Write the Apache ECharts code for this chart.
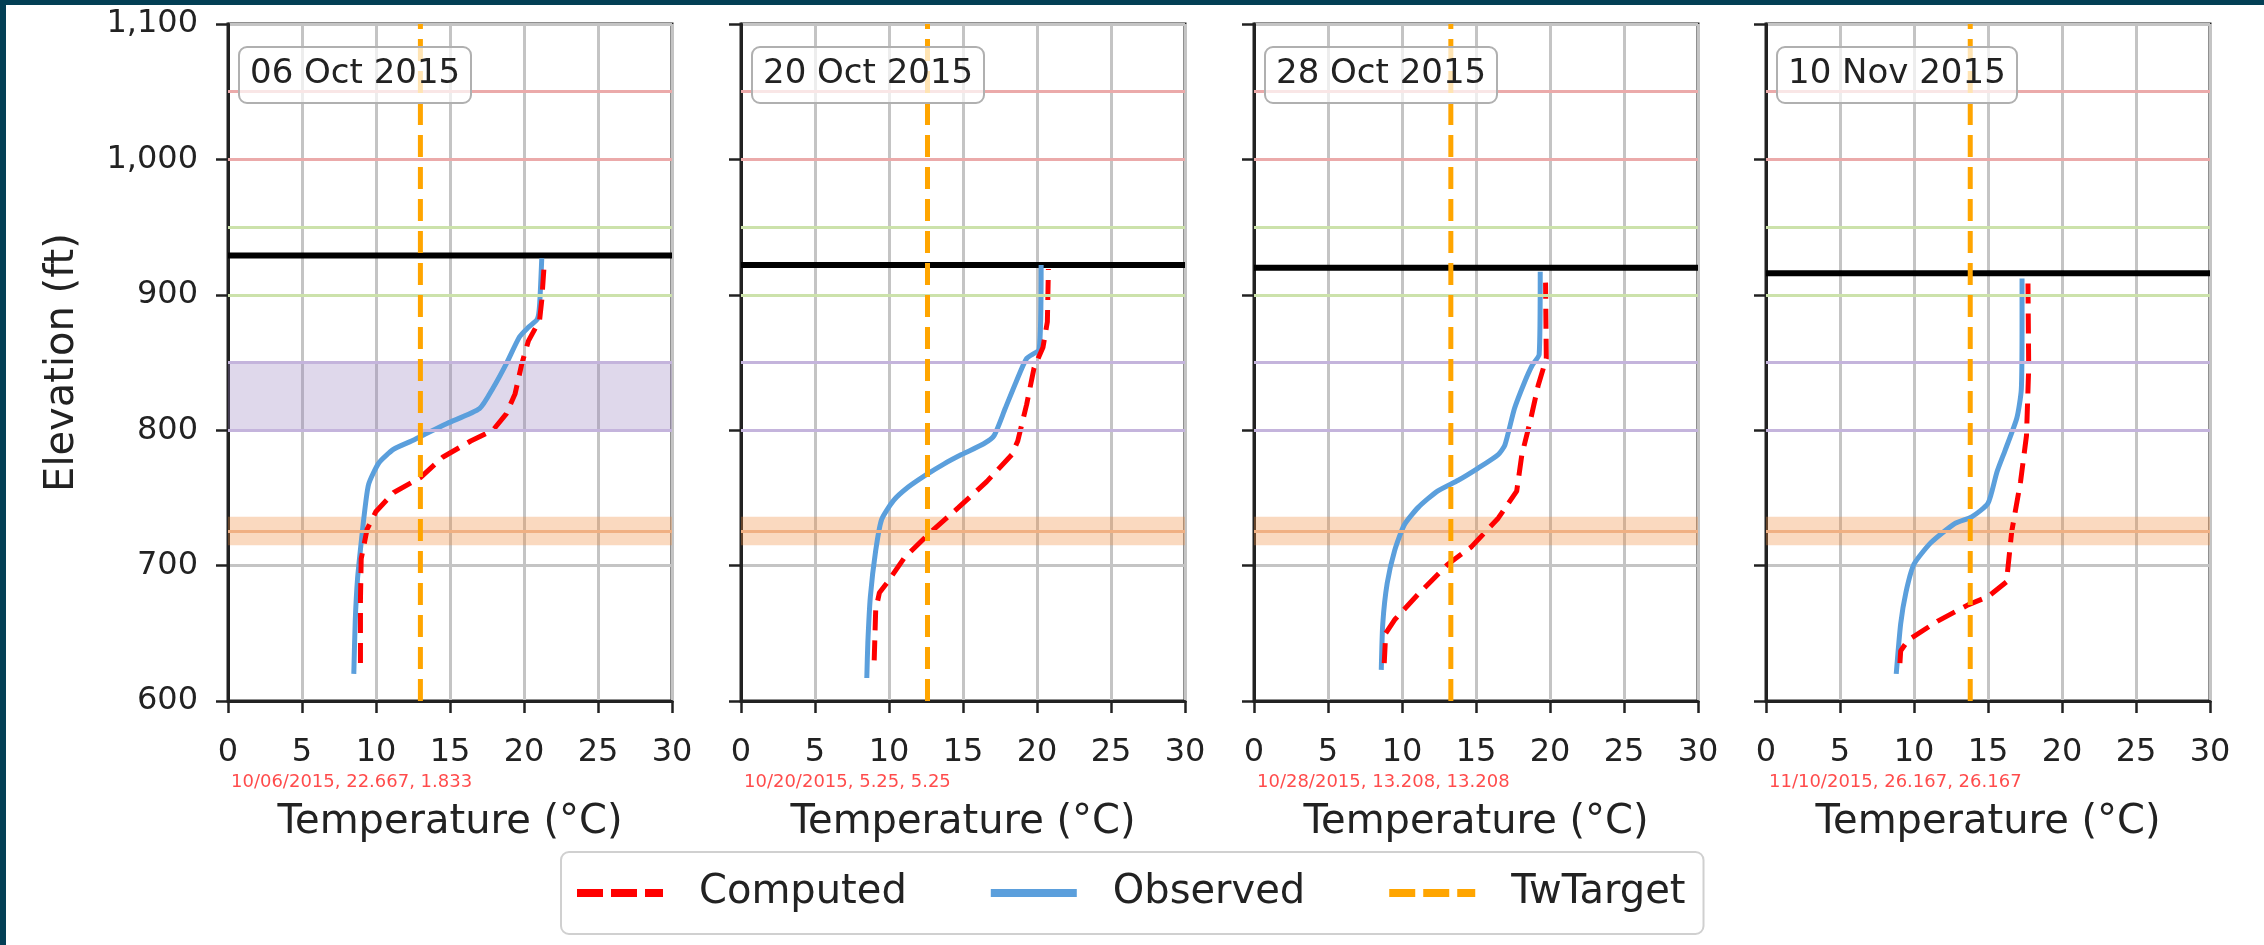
<!DOCTYPE html>
<html>
<head>
<meta charset="utf-8">
<title>Temperature profiles</title>
<script src="https://cdn.jsdelivr.net/npm/echarts@6/dist/echarts.min.js"></script>
<style>
  html, body { margin: 0; padding: 0; background: #fff; }
  #frame { position: relative; width: 2264px; height: 945px; overflow: hidden; }
  #frame .edge { position: absolute; background: #033f55; z-index: 5; }
  #chart { width: 2264px; height: 945px; }
</style>
</head>
<body>
<div id="frame">
  <div class="edge" style="left:0;top:0;width:2264px;height:5px"></div>
  <div class="edge" style="left:0;top:0;width:6px;height:945px"></div>
  <div id="chart"></div>
</div>
<script>
// one panel per profile date
const dates = ['06 Oct 2015', '20 Oct 2015', '28 Oct 2015', '10 Nov 2015'];
const notes = ['10/06/2015, 22.667, 1.833', '10/20/2015, 5.25, 5.25', '10/28/2015, 13.208, 13.208', '11/10/2015, 26.167, 26.167'];
const twTarget = [13.0, 12.6, 13.3, 13.8];
const surfaceElev = [929, 922, 920, 916];

// [temperature °C, elevation ft]
const obs1006 = [[8.5,620],[8.6,660],[8.75,690],[8.95,712],[9.2,737],[9.5,760],[10.2,776],[11.2,786],[12.4,792],[13.3,797],[14.8,805],[17.0,816],[17.9,831],[18.8,849],[19.7,869],[20.3,876],[20.9,882],[21.05,892],[21.2,927]];
const cmp1006 = [[8.95,628],[8.95,675],[9.0,705],[9.4,727],[10.0,740],[11.2,754],[13.0,765],[14.5,780],[16.4,792],[17.9,800],[18.8,812],[19.4,827],[19.85,849],[20.3,866],[21.05,881],[21.2,896],[21.35,920]];
const obs1020 = [[8.5,617],[8.57,643],[8.74,677],[9.1,711],[9.5,734],[10.3,748],[11.3,758],[12.5,767],[13.7,775],[14.9,782],[16.4,790],[17.1,796],[17.85,816],[18.6,836],[19.3,853],[20.15,860],[20.28,922]];
const cmp1020 = [[9.0,630],[9.1,667],[9.35,680],[9.85,687],[11.05,706],[12.75,724],[14.7,743],[16.6,762],[18.3,782],[18.7,792],[19.3,819],[19.8,846],[20.4,861],[20.7,880],[20.77,919]];
const obs1028 = [[8.6,623],[8.7,657],[9.0,687],[9.5,711],[10.15,730],[11.1,743],[12.4,755],[13.8,763],[15.15,772],[16.5,782],[16.95,789],[17.6,816],[18.3,836],[18.8,848],[19.27,856],[19.34,917]];
const cmp1028 = [[8.8,628],[8.9,650],[9.5,660],[11.1,679],[13.1,701],[14.7,714],[16.5,735],[17.75,755],[18.1,782],[18.65,806],[19.2,833],[19.75,853],[19.7,909]];
const obs1110 = [[8.8,620],[9.1,657],[9.45,680],[10.0,701],[11.15,717],[12.75,731],[13.9,736],[15.0,746],[15.6,769],[16.15,785],[16.95,809],[17.25,830],[17.3,880],[17.3,912]];
const cmp1110 = [[9.05,628],[9.1,637],[9.6,645],[11.6,659],[13.65,671],[15.0,677],[16.25,688],[16.6,725],[17.2,762],[17.6,796],[17.75,846],[17.7,911]];

const observed = [obs1006, obs1020, obs1028, obs1110];
const computed = [cmp1006, cmp1020, cmp1028, cmp1110];

// reference elevations
const redLevels = [1050, 1000];
const greenLevels = [950, 900];
const purpleLevels = [850, 800];
const orangeBand = [715, 736];
const orangeMid = 725.5;

const tempMin = 0, tempMax = 30, tempStep = 5;
const elevMin = 600, elevMax = 1100, elevStep = 100;

const FONT = 'DejaVu Sans';
const INK = '#222';
const BLUE = '#5b9fdc';
const RED = '#ff0000';
const ORANGE = '#ffa500';
const GRID = '#c4c4c4';

const gridLeft = [228, 741, 1254, 1766];
const gridW = 444, gridTop = 24, gridH = 677;

const chart = echarts.init(document.getElementById('chart'));

const grids = [], xAxes = [], yAxes = [], series = [], titles = [], texts = [];

dates.forEach(function (d, i) {
  grids.push({ left: gridLeft[i], top: gridTop, width: gridW, height: gridH,
    show: true, borderColor: INK, borderWidth: 3, backgroundColor: 'transparent' });

  xAxes.push({
    gridIndex: i, type: 'value', min: tempMin, max: tempMax, interval: tempStep,
    name: 'Temperature (°C)', nameLocation: 'middle', nameGap: 102,
    nameTextStyle: { fontSize: 40, color: INK, fontFamily: FONT },
    axisLine: { show: true, onZero: false, lineStyle: { color: INK, width: 3 } },
    axisTick: { show: true, length: 12, lineStyle: { color: INK, width: 2.5 } },
    axisLabel: { fontSize: 32, color: INK, fontFamily: FONT, margin: 36 },
    splitLine: { show: true, lineStyle: { color: GRID, width: 3 } }
  });

  yAxes.push({
    gridIndex: i, type: 'value', min: elevMin, max: elevMax, interval: elevStep,
    name: i === 0 ? 'Elevation (ft)' : '', nameLocation: 'middle', nameGap: 145,
    nameTextStyle: { fontSize: 40, color: INK, fontFamily: FONT },
    axisLine: { show: true, onZero: false, lineStyle: { color: INK, width: 3 } },
    axisTick: { show: true, length: 12, lineStyle: { color: INK, width: 2.5 } },
    axisLabel: { show: i === 0, fontSize: 32, color: INK, fontFamily: FONT, margin: 30,
      formatter: function (v) { return v.toLocaleString('en-US'); } },
    splitLine: { show: true, lineStyle: { color: GRID, width: 3 } }
  });

  const levelLines = []
    .concat(redLevels.map(function (y) { return { yAxis: y, lineStyle: { color: '#ebaaaa', width: 3, type: 'solid' } }; }))
    .concat(greenLevels.map(function (y) { return { yAxis: y, lineStyle: { color: '#cce2ab', width: 3, type: 'solid' } }; }))
    .concat(purpleLevels.map(function (y) { return { yAxis: y, lineStyle: { color: '#c4b4dc', width: 3, type: 'solid' } }; }))
    .concat([{ yAxis: orangeMid, lineStyle: { color: '#f0b083', width: 3, type: 'solid' } }]);

  const bands = [[{ yAxis: orangeBand[0], itemStyle: { color: 'rgba(240,140,60,0.33)' } }, { yAxis: orangeBand[1] }]];
  if (i === 0) {
    bands.push([{ yAxis: purpleLevels[1], itemStyle: { color: 'rgba(150,125,190,0.3)' } }, { yAxis: purpleLevels[0] }]);
  }

  // water surface line, carrying the reference levels and bands
  series.push({
    name: 'surface', type: 'line', xAxisIndex: i, yAxisIndex: i, z: 2, silent: true,
    showSymbol: false, symbol: 'none',
    data: [[tempMin, surfaceElev[i]], [tempMax, surfaceElev[i]]],
    lineStyle: { color: '#000', width: 6 },
    markLine: { silent: true, symbol: 'none', label: { show: false }, data: levelLines, animation: false },
    markArea: { silent: true, label: { show: false }, data: bands, animation: false }
  });

  series.push({
    name: 'Observed', type: 'line', xAxisIndex: i, yAxisIndex: i, z: 3,
    showSymbol: false, symbol: 'none', smooth: 0.2,
    data: observed[i],
    itemStyle: { color: BLUE },
    lineStyle: { color: BLUE, width: 5 }
  });

  series.push({
    name: 'Computed', type: 'line', xAxisIndex: i, yAxisIndex: i, z: 4,
    showSymbol: false, symbol: 'none',
    data: computed[i],
    itemStyle: { color: RED },
    lineStyle: { color: RED, width: 5, type: [20, 10] }
  });

  series.push({
    name: 'TwTarget', type: 'line', xAxisIndex: i, yAxisIndex: i, z: 5,
    showSymbol: false, symbol: 'none',
    data: [[twTarget[i], elevMin], [twTarget[i], elevMax]],
    itemStyle: { color: ORANGE },
    lineStyle: { color: ORANGE, width: 5, type: [22, 10] }
  });

  titles.push({
    text: d, left: gridLeft[i] + 11, top: 47,
    padding: [10, 11, 12, 11],
    backgroundColor: 'rgba(255,255,255,0.7)', borderColor: '#b0b0b0', borderWidth: 2, borderRadius: 8,
    textStyle: { fontSize: 34, fontWeight: 'normal', color: INK, fontFamily: FONT }
  });

  texts.push({
    type: 'text', left: gridLeft[i] + 3, top: 773, silent: true,
    style: { text: notes[i], fontSize: 18, fill: 'rgba(255,30,30,0.8)', fontFamily: FONT }
  });
});

const dashIcon = 'path://M0,0H26V8H0Z M34,0H60V8H34Z M68,0H86V8H68Z';

chart.setOption({
  animation: false,
  backgroundColor: 'transparent',
  title: titles,
  grid: grids,
  xAxis: xAxes,
  yAxis: yAxes,
  legend: {
    data: [
      { name: 'Computed', icon: dashIcon, itemStyle: { color: RED } },
      { name: 'Observed', icon: 'rect', itemStyle: { color: BLUE } },
      { name: 'TwTarget', icon: dashIcon, itemStyle: { color: ORANGE } }
    ],
    left: 561, top: 852,
    itemWidth: 86, itemHeight: 8, itemGap: 84,
    padding: [21, 18, 21, 16],
    borderColor: '#d0d0d0', borderWidth: 2, borderRadius: 8,
    itemStyle: { borderWidth: 0 },
    textStyle: { fontSize: 40, color: INK, fontFamily: FONT, padding: [0, 0, 0, 31] },
    selectedMode: false
  },
  graphic: texts,
  series: series
});
</script>
</body>
</html>
